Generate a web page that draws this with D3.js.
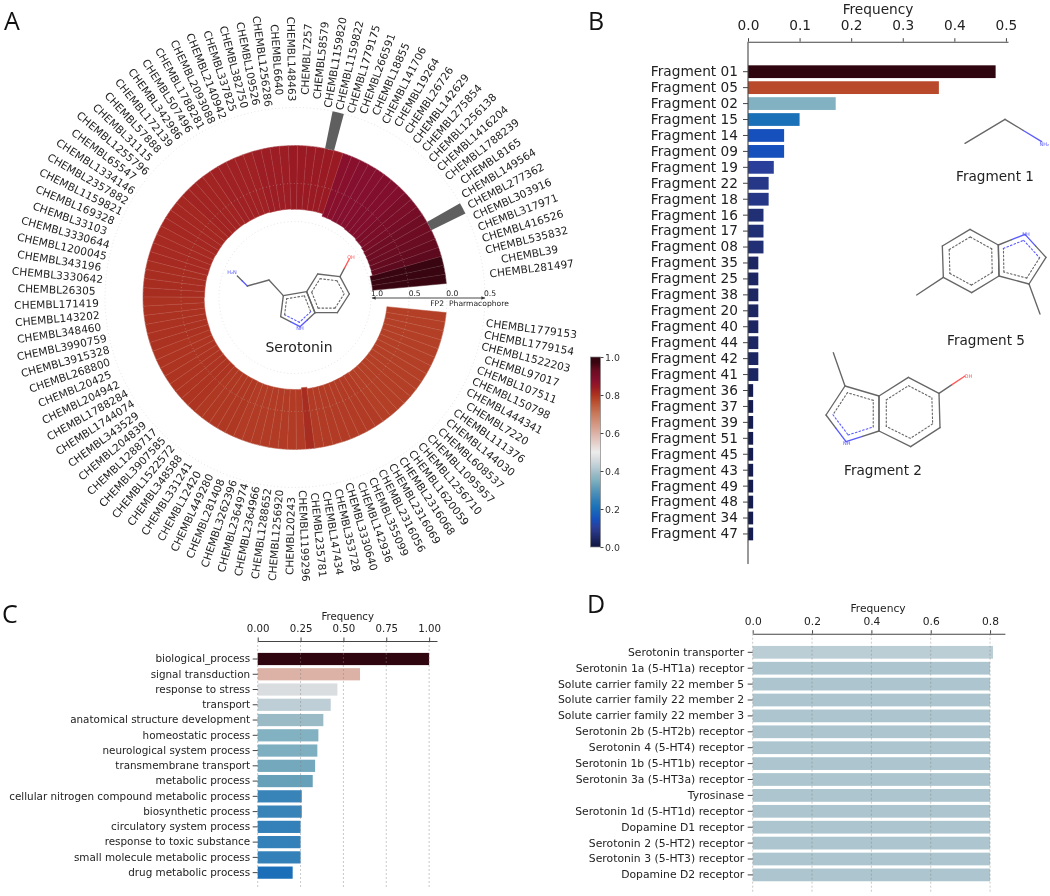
<!DOCTYPE html>
<html><head><meta charset="utf-8">
<script src="https://cdn.jsdelivr.net/npm/d3@7"></script>
<style>
html,body{margin:0;padding:0;background:#fff}
svg{display:block;filter:blur(.5px)}
text{font-family:"DejaVu Sans",sans-serif;fill:#222}
</style></head><body><svg id="c" width="1050" height="896"></svg>
<script>
// ---------- Data ----------
const compoundIds=["281497","39","535832","416526","317971","303916","277362","149564","8165","1788239","1416204","1256138","275854","142629","26726","19264","141706","18855","266591","1779175","1159822","1159820","58579","7257","148463","6640","1256286","109526","382750","337825","2140942","2093088","1788281","507496","342986","172139","57888","31115","1255796","65547","1334146","2357882","1159821","169328","33103","3330644","1200045","343196","3330642","26305","171419","143202","348460","3990759","3915328","268800","20425","204942","1788284","1744074","343529","204839","1288717","3907585","1522572","348588","331241","12420","449280","281408","3262396","2364974","2364966","1288652","1256920","20243","1199296","235781","147434","353728","3330640","142936","355099","2316056","2316069","2316068","1620059","1256710","1095957","608537","144030","111376","7220","444341","150798","107511","97017","1522203","1779154","1779153"];
const fp2Values=[.975,.975,.975,.94,.935,.93,.925,.92,.91,.9,.9,.89,.89,.89,.88,.88,.88,.875,.875,.84,.84,.84,.84,.84,.84,.835,.835,.835,.835,.83,.83,.83,.83,.83,.825,.825,.825,.825,.82,.82,.82,.82,.815,.815,.815,.815,.81,.81,.81,.81,.805,.805,.805,.805,.805,.805,.8,.8,.8,.8,.8,.8,.8,.8,.795,.795,.795,.795,.795,.79,.79,.79,.79,.79,.79,.79,.79,.81,.79,.79,.79,.79,.79,.79,.79,.79,.785,.785,.785,.785,.785,.785,.785,.785,.785,.785,.785,.785,.785,.785];
const pharmacophoreValues=[[6,.5],[20,.5]];
const radialTicksFp=[1,.5,0];
const radialTicksPh=[.5];
const fragments=["Fragment 01","Fragment 05","Fragment 02","Fragment 15","Fragment 14","Fragment 09","Fragment 19","Fragment 22","Fragment 18","Fragment 16","Fragment 17","Fragment 08","Fragment 35","Fragment 25","Fragment 38","Fragment 20","Fragment 40","Fragment 44","Fragment 42","Fragment 41","Fragment 36","Fragment 37","Fragment 39","Fragment 51","Fragment 45","Fragment 43","Fragment 49","Fragment 48","Fragment 34","Fragment 47"];
const fragmentFreq=[.48,.37,.17,.10,.07,.07,.05,.04,.04,.03,.03,.03,.02,.02,.02,.02,.02,.02,.02,.02,.01,.01,.01,.01,.01,.01,.01,.01,.01,.01];
const processes=["biological_process","signal transduction","response to stress","transport","anatomical structure development","homeostatic process","neurological system process","transmembrane transport","metabolic process","cellular nitrogen compound metabolic process","biosynthetic process","circulatory system process","response to toxic substance","small molecule metabolic process","drug metabolic process"];
const processFreq=[1,.597,.465,.426,.383,.354,.348,.335,.321,.257,.257,.25,.25,.25,.204];
const targets=["Serotonin transporter","Serotonin 1a (5-HT1a) receptor","Solute carrier family 22 member 5","Solute carrier family 22 member 2","Solute carrier family 22 member 3","Serotonin 2b (5-HT2b) receptor","Serotonin 4 (5-HT4) receptor","Serotonin 1b (5-HT1b) receptor","Serotonin 3a (5-HT3a) receptor","Tyrosinase","Serotonin 1d (5-HT1d) receptor","Dopamine D1 receptor","Serotonin 2 (5-HT2) receptor","Serotonin 3 (5-HT3) receptor","Dopamine D2 receptor"];
const targetFreq=[.81,.8,.8,.8,.8,.8,.8,.8,.8,.8,.8,.8,.8,.8,.8];
const cmapPos=[0,.04,.08,.105,.146,.21,.26,.32,.35,.38,.42,.465,.5,.6,.7,.77,.8,.84,.88,.93,.97,1];
const cmapCol=["#10153f","#1a2560","#273685","#2a3f9a","#1550bd","#1a72b8","#3a84b8","#66a0b9","#7fb0c0","#98b8c4","#b8ccd4","#dadde0","#ececec","#dcb0a4","#c97a5c","#b84a2b","#ad3420","#9a1a24","#850f2e","#6a0c22","#3a0510","#2f0510"];

// ---------- Shared ----------
const svg=d3.select("#c");
const cmap=d3.scaleLinear().domain(cmapPos).range(cmapCol).interpolate(d3.interpolateRgb);
const AXC="#444";
function letter(t,x,y){svg.append("text").text(t).attr("x",x).attr("y",y).style("font-family","'Open Sans',sans-serif").style("font-size","25px").style("fill","#111");}
letter("A",4,30);letter("B",588,30);letter("C",2,623);letter("D",587,613);

// ---------- Panel A ----------
const cx=295,cy=297.5;
const g=svg.append("g").attr("transform",`translate(${cx},${cy})`);
const deg=Math.PI/180;
const theta=d3.scaleBand().domain(d3.range(compoundIds.length)).range([5.3,354.3]);
const rFp=d3.scaleLinear().domain([0,1]).range([152,76]);
const rPh=d3.scaleLinear().domain([0,1]).range([152,228]);
const toArc=t=>(90-t)*deg;
const arc=d3.arc();
const lighter=c=>d3.interpolateRgb(c,"#fff")(.13);
g.selectAll("path.fp").data(fp2Values).join("path").attr("class","fp")
 .attr("d",(v,i)=>arc({innerRadius:rFp(v),outerRadius:rFp(0),startAngle:toArc(theta(i)),endAngle:toArc(theta(i)+theta.bandwidth())}))
 .attr("fill",v=>cmap(v)).attr("stroke",v=>lighter(cmap(v))).attr("stroke-width",.5);
g.selectAll("path.ph").data(pharmacophoreValues).join("path").attr("class","ph")
 .attr("d",d=>arc({innerRadius:rPh(0),outerRadius:rPh(d[1]),startAngle:toArc(theta(d[0])),endAngle:toArc(theta(d[0])+theta.bandwidth())}))
 .attr("fill","#5f5f5f");
g.selectAll("circle.gf").data(radialTicksFp).join("circle").attr("class","gf").attr("r",d=>rFp(d)).attr("fill","none")
 .attr("stroke","rgba(190,190,190,.5)").attr("stroke-width",.8).attr("stroke-dasharray","1 2.5");
g.selectAll("circle.gp").data(radialTicksPh).join("circle").attr("class","gp").attr("r",d=>rPh(d)).attr("fill","none")
 .attr("stroke","rgba(190,190,190,.5)").attr("stroke-width",.8).attr("stroke-dasharray","1 2.5");
g.selectAll("text.id").data(compoundIds).join("text").attr("class","id")
 .text(d=>"CHEMBL"+d)
 .attr("text-anchor","middle").attr("dominant-baseline","central").style("font-size","10.6px")
 .attr("transform",(d,i)=>{
   const t=theta(i)+theta.bandwidth()/2;
   const x=238.5*Math.cos(t*deg),y=-238.5*Math.sin(t*deg);
   const rot=(t>90&&t<270)?180-t:-t;
   return `translate(${x},${y}) rotate(${rot})`;
 });
// central bi-directional axis
const axY=298;
const axisX=d3.scaleLinear().domain([-1,.5]).range([377,490]);
const gax=svg.append("g");
svg.append("defs").html(`<marker id="ah" markerWidth="5" markerHeight="5" refX="4" refY="2" orient="auto-start-reverse"><path d="M0,0L4,2L0,4z" fill="#333"/></marker>`);
gax.append("line").attr("x1",372).attr("x2",485).attr("y1",axY).attr("y2",axY).attr("stroke","#333").attr("stroke-width",.9).attr("marker-start","url(#ah)").attr("marker-end","url(#ah)");
gax.selectAll("text.t").data([-1,-.5,0,.5]).join("text").attr("class","t").text(d=>d3.format(".1f")(Math.abs(d)))
 .attr("x",d=>axisX(d)).attr("y",296).attr("text-anchor","middle").style("font-size","7.6px");
gax.append("text").text("FP2").attr("x",444).attr("y",306).attr("text-anchor","end").style("font-size","7.6px");
gax.append("text").text("Pharmacophore").attr("x",449).attr("y",306).style("font-size","7.6px");
svg.append("text").text("Serotonin").attr("x",299).attr("y",352).attr("text-anchor","middle").style("font-size","14px");

// ---------- Molecules ----------
const BLUE="#5a5aff",RED="#ff5a5a",GRAY="#666",LIGHT="#aaa";
function mol(ox,oy,spec){
  const P=p=>[ox+p[0]/3,oy+p[1]/3];
  const m=svg.append("g").attr("fill","none").attr("stroke-linecap","round");
  const ln=(a,b,c,w=1.35)=>m.append("line").attr("x1",a[0]).attr("y1",a[1]).attr("x2",b[0]).attr("y2",b[1]).attr("stroke",c).attr("stroke-width",w);
  const mid=(a,b)=>[(a[0]+b[0])/2,(a[1]+b[1])/2];
  (spec.bonds||[]).forEach(b=>{
    const a=P(b[0]),c=P(b[1]);
    if(b[2]){ln(a,mid(a,c),GRAY);ln(mid(a,c),c,b[2]);}
    else ln(a,c,GRAY);
  });
  (spec.rings||[]).forEach(r=>{
    const pts=r.pts.map(P);
    const n=r.n===undefined?-1:r.n;
    pts.forEach((p,i)=>{
      const q=pts[(i+1)%pts.length];
      if(i===n) {ln(p,mid(p,q),BLUE);ln(mid(p,q),q,GRAY);}
      else if((i+1)%pts.length===n){ln(p,mid(p,q),GRAY);ln(mid(p,q),q,BLUE);}
      else ln(p,q,GRAY);
    });
    const c=[d3.mean(pts,p=>p[0]),d3.mean(pts,p=>p[1])];
    const inn=pts.map(p=>[c[0]+(p[0]-c[0])*.76,c[1]+(p[1]-c[1])*.76]);
    inn.forEach((p,i)=>{
      const q=inn[(i+1)%inn.length];
      const near=(i===n||(i+1)%inn.length===n);
      ln(p,q,near?BLUE:GRAY,1.1).attr("stroke-dasharray","1.6 2.2");
    });
  });
  (spec.labels||[]).forEach(l=>{
    const p=P(l[0]);
    svg.append("text").text(l[1]).attr("x",p[0]).attr("y",p[1]).attr("text-anchor","middle").attr("dominant-baseline","central").style("font-size","5px").style("fill",l[2]);
  });
}
mol(200,200,{
  bonds:[[[112,228],[142,258],BLUE],[[207,240],[142,258]],[[250,287],[207,240]],[[420,230],[448,177],RED]],
  rings:[{pts:[[250,287],[320,275],[345,338],[300,380],[242,350]],n:3},{pts:[[320,275],[353,222],[420,230],[448,282],[412,338],[345,338]]}],
  labels:[[[96,215],"H₂N",BLUE],[[453,170],"OH",RED],[[300,383],"NH",BLUE]]
});
mol(640,0,{
  bonds:[[[975,430],[1095,358]],[[1095,358],[1205,425],BLUE]],
  labels:[[[1213,431],"NH₂",BLUE]]
});
mol(640,0,{
  bonds:[[[910,832],[830,885]],[[1167,852],[1200,942]]],
  rings:[{pts:[[1075,735],[990,688],[907,738],[910,832],[995,878],[1077,828]]},{pts:[[1075,735],[1155,703],[1218,772],[1167,852],[1077,828]],n:1}],
  labels:[[[1158,702],"NH",BLUE]]
});
mol(640,290,{
  bonds:[[[615,288],[580,188]],[[897,310],[975,258],RED]],
  rings:[{pts:[[717,318],[805,262],[897,310],[900,413],[812,470],[717,423]]},{pts:[[717,318],[615,288],[558,375],[618,455],[717,423]],n:3}],
  labels:[[[985,258],"OH",RED],[[620,460],"NH",BLUE]]
});
[["Fragment 1",995,176],["Fragment 5",986,340],["Fragment 2",883,470]].forEach(d=>
  svg.append("text").text(d[0]).attr("x",d[1]).attr("y",d[2]).attr("text-anchor","middle").attr("dominant-baseline","central").style("font-size","13.6px"));

// ---------- Colour bar ----------
const cbY=d3.scaleLinear().domain([0,1]).range([547,357]);
const grad=svg.select("defs").append("linearGradient").attr("id","cb").attr("x1",0).attr("x2",0).attr("y1",1).attr("y2",0);
cmapPos.forEach((p,i)=>grad.append("stop").attr("offset",p).attr("stop-color",cmapCol[i]));
svg.append("rect").attr("x",590.5).attr("y",357).attr("width",10).attr("height",190).attr("fill","url(#cb)").attr("stroke","#888").attr("stroke-width",.7);
const cbAx=svg.append("g").attr("transform","translate(600.5,0)").call(d3.axisRight(cbY).tickValues([0,.2,.4,.6,.8,1]).tickFormat(d3.format(".1f")).tickSize(3).tickPadding(1.5).tickSizeOuter(0));
cbAx.select(".domain").remove();cbAx.selectAll("line").attr("stroke",AXC);
cbAx.selectAll("text").style("font-size","9.4px").style("font-family","'DejaVu Sans'").style("fill","#333");

// ---------- Bar panels ----------
function barPanel(o){
  const x=d3.scaleLinear().domain(o.xDomain).range(o.xRange);
  const step=o.yStep,n=o.cats.length;
  const y=d3.scaleBand().domain(o.cats).range([o.yFirst-step/2,o.yFirst-step/2+step*n]).paddingInner(.2).paddingOuter(.1);
  const p=svg.append("g");
  p.selectAll("rect").data(o.cats).join("rect")
   .attr("x",x(0)).attr("y",d=>y(d)).attr("height",y.bandwidth())
   .attr("width",(d,i)=>x(o.vals[i])-x(0)).attr("fill",(d,i)=>cmap(o.shade(o.vals[i])));
  if(o.grid){
    p.selectAll("line.g").data(o.ticks).join("line").attr("class","g")
     .attr("x1",d=>x(d)).attr("x2",d=>x(d)).attr("y1",o.axisY).attr("y2",o.gridEnd)
     .attr("stroke","rgba(130,130,130,.55)").attr("stroke-width",.8).attr("stroke-dasharray","2 2");
  }
  const ax=p.append("g").attr("transform",`translate(0,${o.axisY})`)
   .call(d3.axisTop(x).tickValues(o.ticks).tickFormat(d3.format(o.fmt)).tickSize(3.5).tickPadding(o.padX).tickSizeOuter(0));
  ax.select(".domain").attr("stroke",AXC).attr("stroke-width",1.1);
  ax.selectAll("line").attr("stroke",AXC);
  ax.selectAll("text").style("font-size",o.tickFs+"px").style("font-family","'DejaVu Sans'").style("fill","#222");
  const ay=p.append("g").attr("transform",`translate(${x(0)},0)`)
   .call(d3.axisLeft(y).tickSize(o.tickLen).tickPadding(o.padY));
  ay.select(".domain").remove();
  ay.selectAll("line").attr("stroke",AXC);
  ay.selectAll("text").style("font-size",o.labFs+"px").style("font-family","'DejaVu Sans'").style("fill","#222");
  if(o.spineEnd) p.append("line").attr("x1",x(0)).attr("x2",x(0)).attr("y1",o.axisY).attr("y2",o.spineEnd).attr("stroke",AXC).attr("stroke-width",1.1);
  p.append("text").text("Frequency").attr("x",o.titleX).attr("y",o.titleY).attr("text-anchor","middle").attr("dominant-baseline","central").style("font-size",o.titleFs+"px");
}
const maxF=d3.max(fragmentFreq);
barPanel({cats:fragments,vals:fragmentFreq,shade:v=>v/maxF,xDomain:[0,.504],xRange:[748,1008],ticks:[0,.1,.2,.3,.4,.5],fmt:".1f",
 axisY:41.7,yFirst:71.7,yStep:15.94,tickLen:5,padX:8,padY:5,tickFs:13.7,labFs:13.7,titleFs:13.7,titleX:878,titleY:9,spineEnd:564});
barPanel({cats:processes,vals:processFreq,shade:v=>v,xDomain:[0,1.046],xRange:[257.7,437],ticks:[0,.25,.5,.75,1],fmt:".2f",
 axisY:641,yFirst:659,yStep:15.26,tickLen:5,padX:6,padY:2.5,tickFs:10.2,labFs:10.4,titleFs:10.2,titleX:347.7,titleY:616.7,grid:true,gridEnd:888});
const targetShade=d3.scaleLinear().domain([.8,.81]).range([.405,.425]);
barPanel({cats:targets,vals:targetFreq,shade:targetShade,xDomain:[0,.85],xRange:[752.7,1004.9],ticks:[0,.2,.4,.6,.8],fmt:".1f",
 axisY:633.7,yFirst:652.3,yStep:15.9,tickLen:5,padX:5,padY:3.5,tickFs:10.7,labFs:10.8,titleFs:10.7,titleX:878,titleY:608,grid:true,gridEnd:892});
</script></body></html>
